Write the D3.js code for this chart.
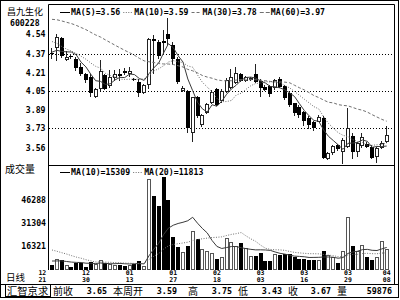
<!DOCTYPE html>
<html>
<head>
<meta charset="utf-8">
<script src="https://cdn.jsdelivr.net/npm/d3@7"></script>
<style>
  body { margin: 0; background: #fff; }
  svg { display: block; }
  .num { font-family: "DejaVu Sans Mono", "Liberation Mono", monospace; font-weight: bold; }
  .cjk { font-family: "Noto Sans CJK SC", sans-serif; }
</style>
</head>
<body>
<svg id="chart" width="400" height="300"></svg>
<script>
// daily bars, 12/21 .. 04/08
const openP = [4.38, 4.42, 4.51, 4.32, 4.355, 4.33, 4.26, 4.20, 4.17, 4.00,
  4.07, 4.19, 4.09, 4.16, 4.20, 4.225, 4.20, 4.155, 4.13, 4.03,
  4.10, 4.50, 4.47, 4.48, 4.54, 4.45, 4.33, 4.05, 4.05, 3.69,
  4.00, 3.755, 3.86, 3.945, 4.065, 3.96, 4.045, 4.08, 4.12, 4.196,
  4.14, 4.145, 4.20, 4.14, 4.085, 4.09, 4.075, 4.155, 4.09, 4.03,
  3.945, 3.915, 3.87, 3.82, 3.782, 3.785, 3.815, 3.465, 3.515, 3.58,
  3.525, 3.57, 3.66, 3.525, 3.575, 3.59, 3.57, 3.48, 3.56, 3.61];
const highP = [4.42, 4.54, 4.52, 4.40, 4.37, 4.34, 4.29, 4.21, 4.20, 4.08,
  4.32, 4.20, 4.23, 4.23, 4.24, 4.25, 4.26, 4.16, 4.15, 4.11,
  4.51, 4.53, 4.49, 4.58, 4.68, 4.47, 4.34, 4.09, 4.06, 4.00,
  4.01, 3.85, 3.95, 4.06, 4.08, 4.07, 4.16, 4.24, 4.26, 4.21,
  4.18, 4.17, 4.285, 4.15, 4.10, 4.10, 4.15, 4.17, 4.10, 4.04,
  3.95, 3.93, 3.88, 3.83, 3.79, 3.84, 3.83, 3.52, 3.58, 3.59,
  3.64, 3.90, 3.69, 3.61, 3.69, 3.61, 3.58, 3.57, 3.62, 3.75];
const lowP = [4.33, 4.31, 4.335, 4.31, 4.33, 4.22, 4.18, 4.12, 4.00, 3.99,
  4.05, 4.06, 4.08, 4.14, 4.14, 4.19, 4.17, 4.14, 4.00, 4.02,
  4.07, 4.20, 4.33, 4.36, 4.45, 4.275, 4.11, 4.04, 3.69, 3.61,
  3.82, 3.74, 3.85, 3.94, 3.92, 3.95, 4.03, 4.07, 4.11, 4.13,
  4.13, 4.14, 4.12, 4.00, 4.05, 4.00, 4.06, 4.08, 3.97, 3.91,
  3.83, 3.82, 3.75, 3.72, 3.70, 3.78, 3.46, 3.45, 3.50, 3.53,
  3.42, 3.56, 3.46, 3.48, 3.56, 3.56, 3.46, 3.43, 3.55, 3.60];
const closeP = [4.37, 4.52, 4.35, 4.345, 4.35, 4.25, 4.20, 4.145, 4.03, 4.07,
  4.22, 4.07, 4.17, 4.20, 4.18, 4.21, 4.225, 4.145, 4.03, 4.10,
  4.50, 4.48, 4.35, 4.465, 4.50, 4.33, 4.13, 4.08, 3.73, 3.995,
  3.83, 3.845, 3.94, 4.045, 3.93, 4.05, 4.145, 4.17, 4.21, 4.14,
  4.17, 4.16, 4.13, 4.075, 4.06, 4.02, 4.145, 4.085, 3.99, 3.93,
  3.86, 3.84, 3.79, 3.756, 3.73, 3.822, 3.47, 3.51, 3.575, 3.545,
  3.626, 3.73, 3.525, 3.60, 3.65, 3.57, 3.47, 3.56, 3.60, 3.67];
const volume = [3900, 7600, 7150, 3700, 2400, 5400, 5400, 2800, 5900, 4550,
  7150, 5400, 4550, 4100, 4100, 3250, 4100, 4550, 6300, 3250,
  59700, 48800, 42300, 61000, 46200, 22300, 15400, 12400, 16300, 26000,
  21000, 14500, 13200, 11500, 7600, 8900, 21700, 18900, 16300, 18000,
  15200, 9800, 9800, 11900, 6500, 6500, 11100, 10200, 11100, 11100,
  8900, 8000, 7600, 7150, 6900, 7150, 13200, 10200, 9300, 5000,
  13200, 35000, 16300, 12800, 17100, 8900, 7150, 8900, 19700, 14500];

// sessions before the window, only feed the averages
const prevClose = [4.62, 4.66, 4.70, 4.68, 4.72, 4.75, 4.70, 4.73, 4.74, 4.77,
  4.80, 4.86, 4.90, 4.85, 4.88, 4.84, 4.80, 4.82, 4.76, 4.73,
  4.68, 4.62, 4.57, 4.52, 4.46, 4.44, 4.40, 4.36, 4.36];
const prevVolume = [24000, 26000, 21000, 23000, 25000, 20000, 22000, 21000, 18900,
  8100, 7000, 6500, 8000, 6200, 7500, 6000, 7400, 6500, 6000];

const priceTicks = [4.54, 4.37, 4.21, 4.05, 3.89, 3.73, 3.56];
const priceGrid = [4.37, 4.05, 3.73];
const volTicks = [46288, 31304, 16321];

const dateMonth = ["12", "12", "01", "01", "02", "03", "03", "03", "04"];
const dateDay = ["21", "30", "13", "27", "18", "03", "16", "29", "08"];
const dateIdx = [-2, 7, 16, 25, 34, 43, 52, 61, 69];

const maPeriods = [5, 10, 30, 60];
const maLast = ["3.56", "3.59", "3.78", "3.97"];
const volMaPeriods = [10, 20];
const volMaLast = ["15309", "11813"];

const infoLabels = ["前收", "本周开", "高", "低", "收", "量"];
const infoValues = ["3.65", "3.59", "3.75", "3.43", "3.67", "59876"];

const svg = d3.select("#chart");
const N = closeP.length;

const x = d3.scaleLinear().domain([0, N - 1]).range([52, 386.7]);
const y = d3.scaleLinear().domain([3.73, 4.37]).range([128, 54]);
const yv = d3.scaleLinear().domain([0, 46288]).range([271, 200]);

// simple moving average over the visible window, using the history in front of it
function movingAvg(prev, cur, n) {
  const all = prev.concat(cur);
  const off = prev.length;
  return cur.map(function(d, i) {
    const end = off + i;
    if (end - n + 1 < 0) return null;
    return d3.mean(all.slice(end - n + 1, end + 1));
  });
}

const styles = {
  solid: { stroke: "#3a3a3a", dash: null },
  dot: { stroke: "#707070", dash: "1,1.5" },
  dash: { stroke: "#707070", dash: "3,2" },
  dashLong: { stroke: "#707070", dash: "4,2" }
};
const maStyle = ["solid", "dot", "dash", "dashLong"];
const volMaStyle = ["solid", "dot"];

// frames
svg.append("rect").attr("x", 0.5).attr("y", 0.5).attr("width", 398).attr("height", 297)
  .attr("fill", "none").attr("stroke", "#000");
svg.append("line").attr("x1", 48.5).attr("x2", 394.5).attr("y1", 4.5).attr("y2", 4.5).attr("stroke", "#000");
svg.append("line").attr("x1", 48.5).attr("x2", 48.5).attr("y1", 4.5).attr("y2", 270).attr("stroke", "#000");
svg.append("line").attr("x1", 394.5).attr("x2", 394.5).attr("y1", 4.5).attr("y2", 284.5).attr("stroke", "#000");
svg.append("line").attr("x1", 48.5).attr("x2", 394.5).attr("y1", 165.5).attr("y2", 165.5).attr("stroke", "#000");
svg.append("line").attr("x1", 0.5).attr("x2", 398.5).attr("y1", 284.5).attr("y2", 284.5).attr("stroke", "#000");

svg.append("defs").append("clipPath").attr("id", "clipPrice")
  .append("rect").attr("x", 49).attr("y", 5).attr("width", 345).attr("height", 160);
svg.select("defs").append("clipPath").attr("id", "clipVol")
  .append("rect").attr("x", 49).attr("y", 166).attr("width", 345).attr("height", 104);

// price panel
const gp = svg.append("g").attr("clip-path", "url(#clipPrice)");

gp.selectAll(".grid").data(priceGrid).enter().append("line")
  .attr("x1", 49).attr("x2", 394)
  .attr("y1", function(d) { return Math.round(y(d)) + 0.5; })
  .attr("y2", function(d) { return Math.round(y(d)) + 0.5; })
  .attr("stroke", "#000").attr("stroke-dasharray", "1,2");

const candles = d3.range(N).map(function(i) {
  return { i: i, o: openP[i], h: highP[i], l: lowP[i], c: closeP[i], v: volume[i] };
});

const cg = gp.selectAll(".candle").data(candles).enter().append("g");
cg.append("line")
  .attr("x1", function(d) { return Math.round(x(d.i)) - 0.5; })
  .attr("x2", function(d) { return Math.round(x(d.i)) - 0.5; })
  .attr("y1", function(d) { return Math.round(y(d.h)); })
  .attr("y2", function(d) { return Math.round(y(d.l)); })
  .attr("stroke", "#222");
cg.append("rect")
  .attr("x", function(d) { return Math.round(x(d.i)) - (d.c >= d.o ? 1.5 : 2); })
  .attr("y", function(d) { return Math.round(y(Math.max(d.o, d.c))) + (d.c >= d.o ? 0.5 : 0); })
  .attr("width", function(d) { return d.c >= d.o ? 3 : 4; })
  .attr("height", function(d) {
    const hgt = Math.round(y(Math.min(d.o, d.c))) - Math.round(y(Math.max(d.o, d.c)));
    return d.c >= d.o ? Math.max(hgt - 1, 0.01) : Math.max(hgt, 1);
  })
  .attr("fill", function(d) { return d.c >= d.o ? "#fff" : "#000"; })
  .attr("stroke", function(d) { return d.c >= d.o ? "#222" : "none"; });

const priceLine = d3.line()
  .defined(function(d) { return d != null; })
  .x(function(d, i) { return x(i); })
  .y(function(d) { return y(d); });

maPeriods.forEach(function(n, k) {
  if (prevClose.length < n - 1) return; // not enough history in front to draw it
  const st = styles[maStyle[k]];
  gp.append("path")
    .datum(movingAvg(prevClose, closeP, n))
    .attr("d", priceLine)
    .attr("fill", "none")
    .attr("stroke", st.stroke)
    .attr("stroke-dasharray", st.dash);
});

// volume panel
const gv = svg.append("g").attr("clip-path", "url(#clipVol)");
gv.selectAll(".vbar").data(candles).enter().append("rect")
  .attr("x", function(d) { return Math.round(x(d.i)) - (d.c >= d.o ? 1.5 : 2); })
  .attr("y", function(d) { return Math.round(yv(d.v)) + (d.c >= d.o ? 0.5 : 0); })
  .attr("width", function(d) { return d.c >= d.o ? 3 : 4; })
  .attr("height", function(d) { return 270 - Math.round(yv(d.v)) - (d.c >= d.o ? 1 : 0); })
  .attr("fill", function(d) { return d.c >= d.o ? "#fff" : "#000"; })
  .attr("stroke", function(d) { return d.c >= d.o ? "#555" : "none"; });

const volLine = d3.line()
  .defined(function(d) { return d != null; })
  .x(function(d, i) { return x(i); })
  .y(function(d) { return yv(d); });

volMaPeriods.forEach(function(n, k) {
  const st = styles[volMaStyle[k]];
  gv.append("path")
    .datum(movingAvg(prevVolume, volume, n))
    .attr("d", volLine)
    .attr("fill", "none")
    .attr("stroke", st.stroke)
    .attr("stroke-dasharray", st.dash);
});

// legends
function drawLegend(ly, labels, styleKeys) {
  let cx = 60;
  labels.forEach(function(lab, k) {
    const st = styles[styleKeys[k]];
    svg.append("line").attr("x1", cx).attr("x2", cx + 10)
      .attr("y1", ly + 0.5).attr("y2", ly + 0.5)
      .attr("stroke", k === 0 ? "#000" : st.stroke).attr("stroke-dasharray", st.dash);
    const t = svg.append("text").attr("class", "num")
      .attr("x", cx + 11).attr("y", ly).attr("dominant-baseline", "central")
      .attr("font-size", 8.2).text(lab);
    cx += 11 + t.node().getComputedTextLength() + 3;
  });
}
drawLegend(12, maPeriods.map(function(n, k) { return "MA(" + n + ")=" + maLast[k]; }), maStyle);
drawLegend(172, volMaPeriods.map(function(n, k) { return "MA(" + n + ")=" + volMaLast[k]; }), volMaStyle);

// axes text
svg.append("text").attr("class", "cjk").attr("x", 7).attr("y", 11)
  .attr("dominant-baseline", "central").attr("font-size", 9).text("昌九生化");
svg.append("text").attr("class", "num").attr("x", 10).attr("y", 22.5)
  .attr("dominant-baseline", "central").attr("font-size", 8.2).text("600228");

svg.selectAll(".ptick").data(priceTicks).enter().append("text")
  .attr("class", "num").attr("x", 45.5).attr("y", function(d) { return y(d); })
  .attr("text-anchor", "end").attr("dominant-baseline", "central").attr("font-size", 8.2)
  .text(function(d) { return d.toFixed(2); });

svg.append("text").attr("class", "cjk").attr("x", 5).attr("y", 168.5)
  .attr("dominant-baseline", "central").attr("font-size", 10).text("成交量");

svg.selectAll(".vtick").data(volTicks).enter().append("text")
  .attr("class", "num").attr("x", 46).attr("y", function(d) { return yv(d); })
  .attr("text-anchor", "end").attr("dominant-baseline", "central").attr("font-size", 8.2)
  .text(function(d) { return d; });

svg.append("text").attr("class", "cjk").attr("x", 6).attr("y", 276.5)
  .attr("dominant-baseline", "central").attr("font-size", 9.5).text("日线");

const dg = svg.selectAll(".dlab").data(dateIdx).enter().append("g");
dg.append("text").attr("class", "num")
  .attr("x", function(d) { return x(d); }).attr("y", 273)
  .attr("text-anchor", "middle").attr("dominant-baseline", "central").attr("font-size", 6.5)
  .text(function(d, k) { return dateMonth[k]; });
dg.append("text").attr("class", "num")
  .attr("x", function(d) { return x(d); }).attr("y", 279.8)
  .attr("text-anchor", "middle").attr("dominant-baseline", "central").attr("font-size", 6.5)
  .text(function(d, k) { return dateDay[k]; });

// bottom info bar
svg.append("rect").attr("x", 5.5).attr("y", 284.5).attr("width", 45).attr("height", 12)
  .attr("fill", "none").attr("stroke", "#000");
svg.append("text").attr("class", "cjk").attr("x", 7).attr("y", 290.8)
  .attr("dominant-baseline", "central").attr("font-size", 10.3).text("汇智京求");

const infoLabelX = [53, 113, 188, 238, 288, 337];
const infoValueRight = [107, 177, 232, 282, 331, 392];
infoLabels.forEach(function(lab, k) {
  svg.append("text").attr("class", "cjk").attr("x", infoLabelX[k]).attr("y", 290.8)
    .attr("dominant-baseline", "central").attr("font-size", 10).text(lab);
  svg.append("text").attr("class", "num").attr("x", infoValueRight[k]).attr("y", 290.8)
    .attr("text-anchor", "end").attr("dominant-baseline", "central").attr("font-size", 8.4)
    .text(infoValues[k]);
});
</script>
</body>
</html>
